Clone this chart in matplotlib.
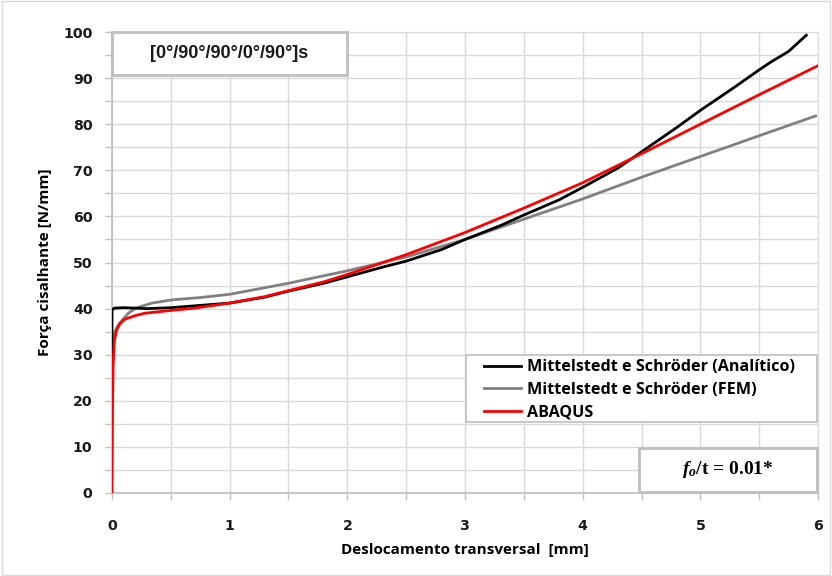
import matplotlib.pyplot as plt
from matplotlib.patches import Rectangle

plt.rcParams['font.family'] = ['Liberation Sans', 'DejaVu Sans']
plt.rcParams['mathtext.fontset'] = 'custom'
plt.rcParams['mathtext.it'] = 'Liberation Serif:italic:bold'
plt.rcParams['mathtext.rm'] = 'Liberation Serif:bold'

# --- data ---
x_analitico = [0, 0, 0.02, 0.1, 0.3, 0.5, 0.8, 1.0, 1.3, 1.5, 1.8, 2.0, 2.3, 2.5,
               2.8, 3.0, 3.3, 3.5, 3.8, 4.0, 4.3, 4.5, 4.8, 5.0, 5.3, 5.5, 5.6, 5.75, 5.9]
y_analitico = [26.7, 39.7, 40.1, 40.2, 40.0, 40.2, 40.8, 41.2, 42.5, 43.8, 45.5, 46.9,
               49.0, 50.3, 52.8, 55.0, 58.0, 60.3, 63.6, 66.3, 70.5, 74.0, 79.3, 83.0,
               88.2, 91.8, 93.5, 95.8, 99.3]

x_fem = [0, 0.02, 0.05, 0.09, 0.14, 0.2, 0.34, 0.51, 0.75, 1.0, 1.5, 2.0, 2.5, 3.0,
         3.5, 4.0, 4.5, 5.0, 5.5, 5.98]
y_fem = [32.5, 34.8, 36.3, 37.6, 39.0, 40.1, 41.2, 41.9, 42.4, 43.1, 45.5, 48.2,
         51.2, 55.0, 59.4, 63.8, 68.5, 73.0, 77.5, 81.8]

x_abaqus = [0, 0.005, 0.01, 0.02, 0.04, 0.07, 0.11, 0.2, 0.28, 0.5, 0.7, 1.0, 1.3,
            1.5, 1.8, 2.0, 2.5, 3.0, 3.5, 4.0, 4.5, 5.0, 5.5, 6.0]
y_abaqus = [0, 20, 28, 33, 35.4, 36.8, 37.7, 38.5, 39.0, 39.6, 40.1, 41.2, 42.6,
            43.9, 45.8, 47.4, 51.7, 56.5, 61.8, 67.3, 73.6, 80.0, 86.4, 92.7]

laminado = "[0°/90°/90°/0°/90°]s"
razao = r"$f_o$/t = 0.01*"

fig = plt.figure(figsize=(8.32, 5.76), dpi=100)
ax = fig.add_axes([0.1346, 0.1441, 0.8486, 0.8003])

ax.plot(x_analitico, y_analitico, color='black', lw=2, label='Mittelstedt e Schröder (Analítico)', zorder=4)
ax.plot(x_fem, y_fem, color='#808080', lw=2, label='Mittelstedt e Schröder (FEM)', zorder=3)
ax.plot(x_abaqus, y_abaqus, color='#ff0000', lw=2, label='ABAQUS', zorder=5)

ax.set_xlim(0, 6)
ax.set_ylim(0, 100)
ax.set_xticks(range(0, 7))
ax.set_xticks([i * 0.5 for i in range(13)], minor=True)
ax.set_yticks(range(0, 101, 10))
ax.set_yticks(range(0, 101, 5), minor=True)
ax.grid(True, which='both', color='#d9d9d9', lw=1)
ax.set_axisbelow(True)
ax.tick_params(which='both', direction='out', color='#bfbfbf', length=5, width=1)
ax.tick_params(axis='y', which='major', pad=9)
ax.tick_params(axis='x', which='major', pad=14)
for lab in ax.get_xticklabels() + ax.get_yticklabels():
    lab.set_fontweight('bold')
    lab.set_family('DejaVu Sans')
    lab.set_fontsize(10.2)
    lab.set_color('#1a1a1a')
for s in ['top', 'right']:
    ax.spines[s].set_color('#d9d9d9')
for s in ['left', 'bottom']:
    ax.spines[s].set_color('#bfbfbf')
    ax.spines[s].set_linewidth(1.2)

ax.set_xlabel('Deslocamento transversal  [mm]', fontsize=11, family='Open Sans',
              fontweight='bold', labelpad=7)
ax.set_ylabel('Força cisalhante [N/mm]', fontsize=11, family='Open Sans',
              fontweight='bold', labelpad=8)

# legend frame drawn separately so its padding matches the reference
ax.add_patch(Rectangle((0.501, 0.154), 0.497, 0.146, transform=ax.transAxes, facecolor='white',
                       edgecolor='#bfbfbf', lw=1.2, zorder=6, clip_on=False))
leg = ax.legend(loc='upper left', bbox_to_anchor=(0.522, 0.297), borderaxespad=0,
                frameon=False, handlelength=2.3,
                prop={'family': 'Open Sans', 'weight': 'bold', 'size': 11.6},
                labelspacing=0.42, borderpad=0.2, handletextpad=0.4)
leg.set_zorder(7)

# text boxes
ax.add_patch(Rectangle((0.0, 0.907), 0.333, 0.093, transform=ax.transAxes, facecolor='white',
                       edgecolor='#bfbfbf', lw=2, zorder=6, clip_on=False))
ax.text(0.1665, 0.9535, laminado, transform=ax.transAxes, ha='center', va='center',
        fontsize=13, fontweight='bold', color='#1a1a1a', zorder=7)

ax.add_patch(Rectangle((0.746, 0.002), 0.252, 0.095, transform=ax.transAxes, facecolor='white',
                       edgecolor='#bfbfbf', lw=2, zorder=6, clip_on=False))
ax.text(0.872, 0.05, razao, transform=ax.transAxes, ha='center', va='center',
        fontsize=14, family='Liberation Serif', fontweight='bold', zorder=7)

fig.add_artist(Rectangle((0.002, 0.002), 0.996, 0.996, transform=fig.transFigure,
                         facecolor='none', edgecolor='#d9d9d9', lw=1))

fig.savefig('out.png', dpi=100)
